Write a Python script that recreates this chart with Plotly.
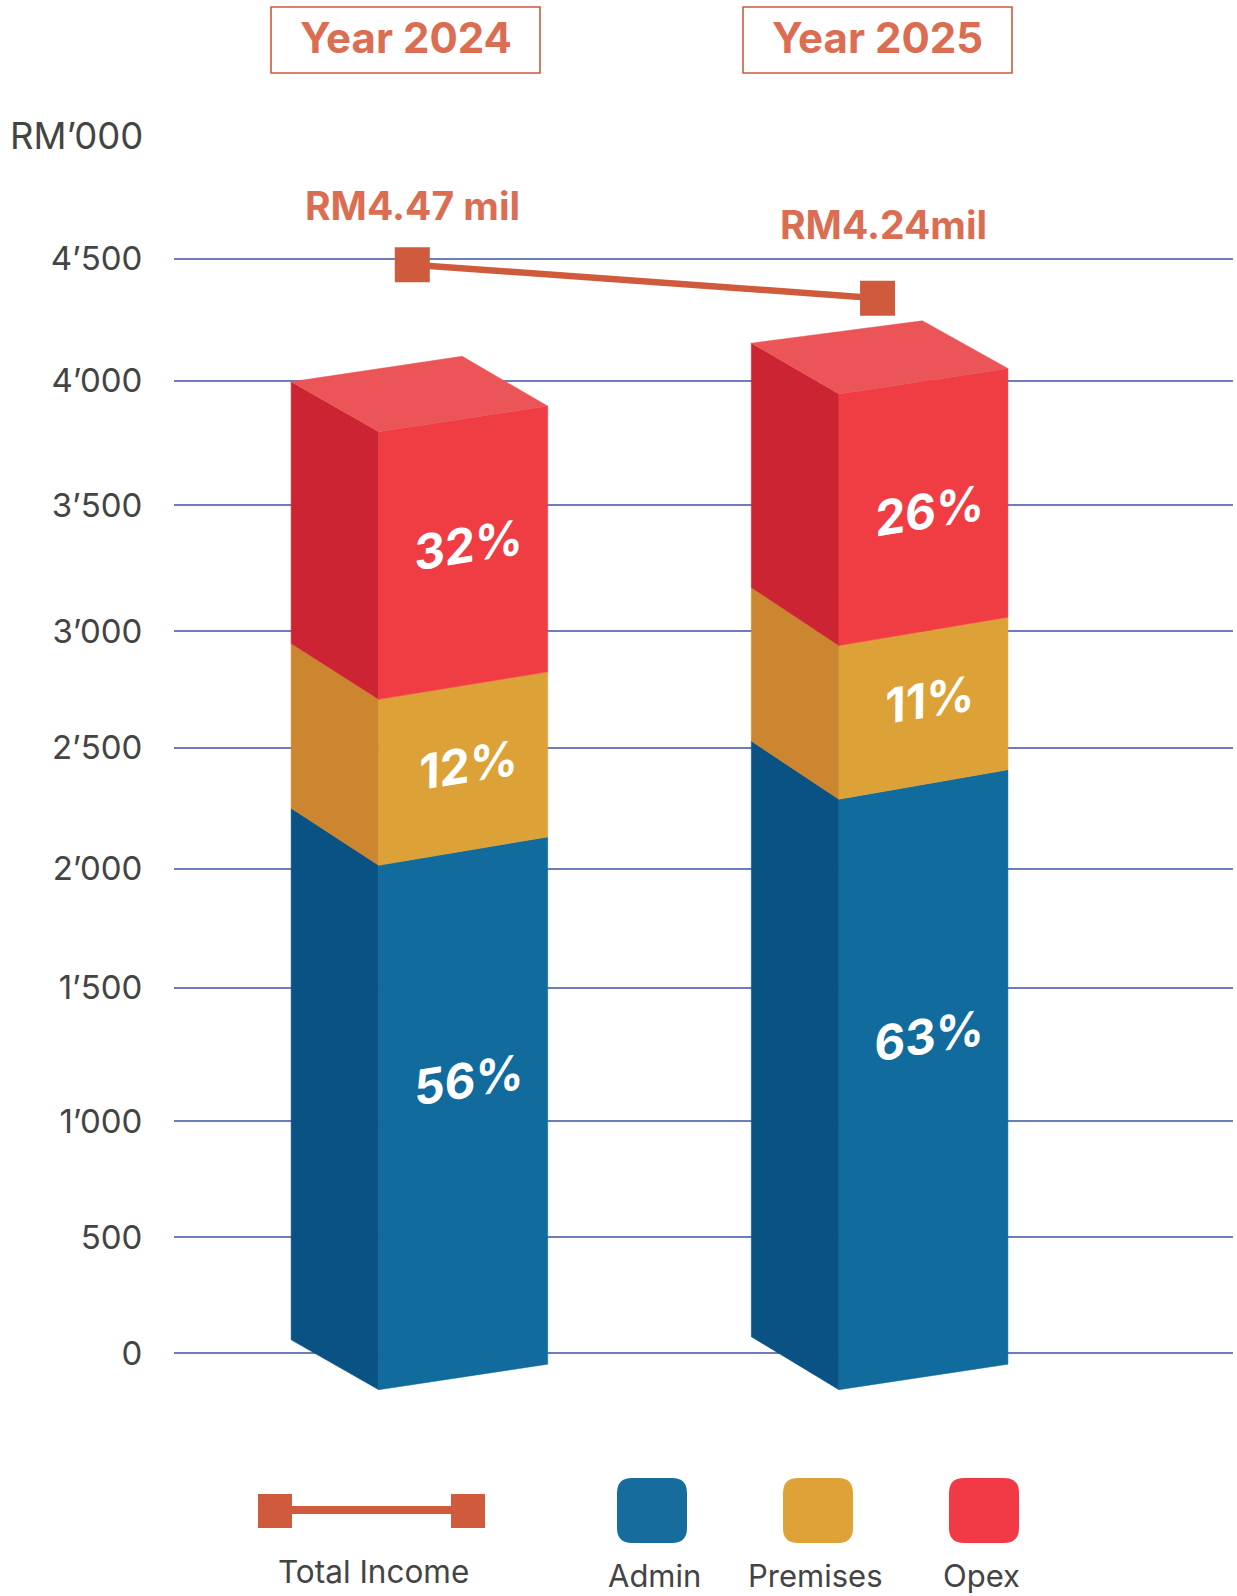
import plotly.graph_objects as go

# ---- data (RM'000, read at the back-left edge of each bar) ----
years = [2024, 2025]
bar_base = [54, 67]
admin = [2187, 2450]
premises = [678, 632]
opex = [1076, 1005]
admin_pct = ["56%", "63%"]
premises_pct = ["12%", "11%"]
opex_pct = ["32%", "26%"]
admin_label_y = [1126, 1306]
premises_label_y = [2420, 2688]
opex_label_y = [3325, 3467]
income = [4477, 4339]
income_x = [2024.073, 2025.084]
income_labels = ["RM4.47 mil", "RM4.24mil"]
grid_positions = [0, 477, 954, 1503, 1992, 2489, 2970, 3488, 4000, 4502]
tick_labels = ["0", "500", "1’000", "1’500", "2’000", "2’500", "3’000", "3’500", "4’000", "4’500"]
legend_names = ["Admin", "Premises", "Opex"]

# ---- oblique projection of the boxes ----
LEFT, RIGHT = -0.1903, 0.3673
BACK = [0.1815, 0.1815]
drops = [[205, 235, 230, 205], [218, 239, 239, 209]]
rises = [[105, 117, 113, 105], [105, 121, 117, 105]]
back_rises = [105, 92]

C_ADMIN, C_ADMIN_S = "#116B9C", "#0A5284"
C_PREM, C_PREM_S = "#DDA237", "#CB862F"
C_OPEX, C_OPEX_S = "#F03C43", "#CC2432"
C_TOP = "#EB5558"
C_LINE = "#D05A3C"
C_TEXT = "#DB6D52"
C_GREY = "#444444"
FONT = "Inter"

W, H = 1237, 1596
ML, MR = 174, 4


def px(x):
    return (x - ML) / (W - ML - MR)


def py(y):
    return 1 - y / H


def note(x, y, text, size, color, xanchor="center"):
    return dict(x=px(x), y=py(y), xref="paper", yref="paper", text=text, showarrow=False,
                xanchor=xanchor, yanchor="middle", font=dict(family=FONT, size=size, color=color))


fig = go.Figure()


def poly(xs, ys, color):
    fig.add_trace(go.Scatter(x=xs + xs[:1], y=ys + ys[:1], mode="lines", fill="toself",
                             fillcolor=color, line=dict(color=color, width=0.5),
                             hoverinfo="skip", showlegend=False))


for i, yr in enumerate(years):
    levels = [bar_base[i], bar_base[i] + admin[i], bar_base[i] + admin[i] + premises[i],
              bar_base[i] + admin[i] + premises[i] + opex[i]]
    xl, xf, xr = yr + LEFT, yr, yr + RIGHT
    colors = [(C_ADMIN_S, C_ADMIN), (C_PREM_S, C_PREM), (C_OPEX_S, C_OPEX)]
    for s in range(3):
        lo, hi = levels[s], levels[s + 1]
        dlo, dhi = drops[i][s], drops[i][s + 1]
        rlo, rhi = rises[i][s], rises[i][s + 1]
        poly([xl, xf, xf, xl], [lo, lo - dlo, hi - dhi, hi], colors[s][0])
        poly([xf, xr, xr, xf], [lo - dlo, lo - dlo + rlo, hi - dhi + rhi, hi - dhi], colors[s][1])
    top, d, r = levels[3], drops[i][3], rises[i][3]
    poly([xl, xf, xr, yr + BACK[i]], [top, top - d, top - d + r, top + back_rises[i]], C_TOP)

fig.add_trace(go.Scatter(x=income_x, y=income, mode="lines+markers",
                         line=dict(color=C_LINE, width=6.5),
                         marker=dict(symbol="square", size=35, color=C_LINE),
                         hoverinfo="skip", showlegend=False))

ann = []
for i, yr in enumerate(years):
    for lab, val in ((opex_pct[i], opex_label_y[i]), (premises_pct[i], premises_label_y[i]),
                     (admin_pct[i], admin_label_y[i])):
        ann.append(dict(x=yr + 0.195, y=val, xref="x", yref="y", text=f"<b><i>{lab}</i></b>",
                        showarrow=False, textangle=-9,
                        font=dict(family=FONT, size=48, color="white")))

for x, y, lab in zip([412, 883], [205, 225], income_labels):
    ann.append(note(x, y, f"<b>{lab}</b>", 39, C_TEXT))

shapes = []
for (x0, x1), yr in zip([(271, 540), (743, 1012)], years):
    shapes.append(dict(type="rect", xref="paper", yref="paper", x0=px(x0), x1=px(x1), y0=py(73), y1=py(7),
                       line=dict(color=C_LINE, width=1.6), fillcolor="rgba(0,0,0,0)"))
    ann.append(note((x0 + x1) / 2, 37, f"<b>Year {yr}</b>", 42, C_TEXT))

ann.append(note(145, 136, "RM’000", 36.5, C_GREY, xanchor="right"))

# legend: total income
for x0 in (258, 451):
    shapes.append(dict(type="rect", xref="paper", yref="paper", x0=px(x0), x1=px(x0 + 34), y0=py(1528), y1=py(1494),
                       fillcolor=C_LINE, line_width=0))
shapes.append(dict(type="rect", xref="paper", yref="paper", x0=px(292), x1=px(451), y0=py(1514), y1=py(1506),
                   fillcolor=C_LINE, line_width=0))
ann.append(note(373, 1571, "Total Income", 31.5, C_GREY))


def rounded(x0, x1, y0, y1, r=15):
    X0, X1 = px(x0), px(x1)
    rx = r / (W - ML - MR)
    ry = r / H
    Y0, Y1 = py(y0), py(y1)
    return (f"M {X0 + rx} {Y0} L {X1 - rx} {Y0} Q {X1} {Y0} {X1} {Y0 - ry} L {X1} {Y1 + ry} "
            f"Q {X1} {Y1} {X1 - rx} {Y1} L {X0 + rx} {Y1} Q {X0} {Y1} {X0} {Y1 + ry} "
            f"L {X0} {Y0 - ry} Q {X0} {Y0} {X0 + rx} {Y0} Z")


for name, x0, tx, col in zip(legend_names, [617, 783, 949], [654, 815, 981], ["#166D9D", "#DFA239", "#F13A46"]):
    shapes.append(dict(type="path", xref="paper", yref="paper", path=rounded(x0, x0 + 70, 1478, 1543),
                       fillcolor=col, line_width=0))
    ann.append(note(tx, 1575, name, 31, C_GREY))

fig.update_layout(
    width=W, height=H, margin=dict(l=ML, r=MR, t=0, b=0),
    paper_bgcolor="white", plot_bgcolor="white", showlegend=False,
    annotations=ann, shapes=shapes,
    xaxis=dict(range=[2023.5552, 2025.8564], visible=False, fixedrange=True),
    yaxis=dict(range=[-999.6, 5565.6], tickmode="array", tickvals=grid_positions, ticktext=tick_labels,
               showgrid=True, gridcolor="#6C7DB8", gridwidth=1.5, zeroline=False, showline=False,
               ticks="outside", ticklen=24, tickcolor="rgba(0,0,0,0)", tickwidth=1,
               tickfont=dict(family=FONT, size=33, color=C_GREY), fixedrange=True),
)

fig.write_html("out.html", post_script="document.body.style.margin='0';document.body.style.overflow='hidden';",
               config=dict(displayModeBar=False))
